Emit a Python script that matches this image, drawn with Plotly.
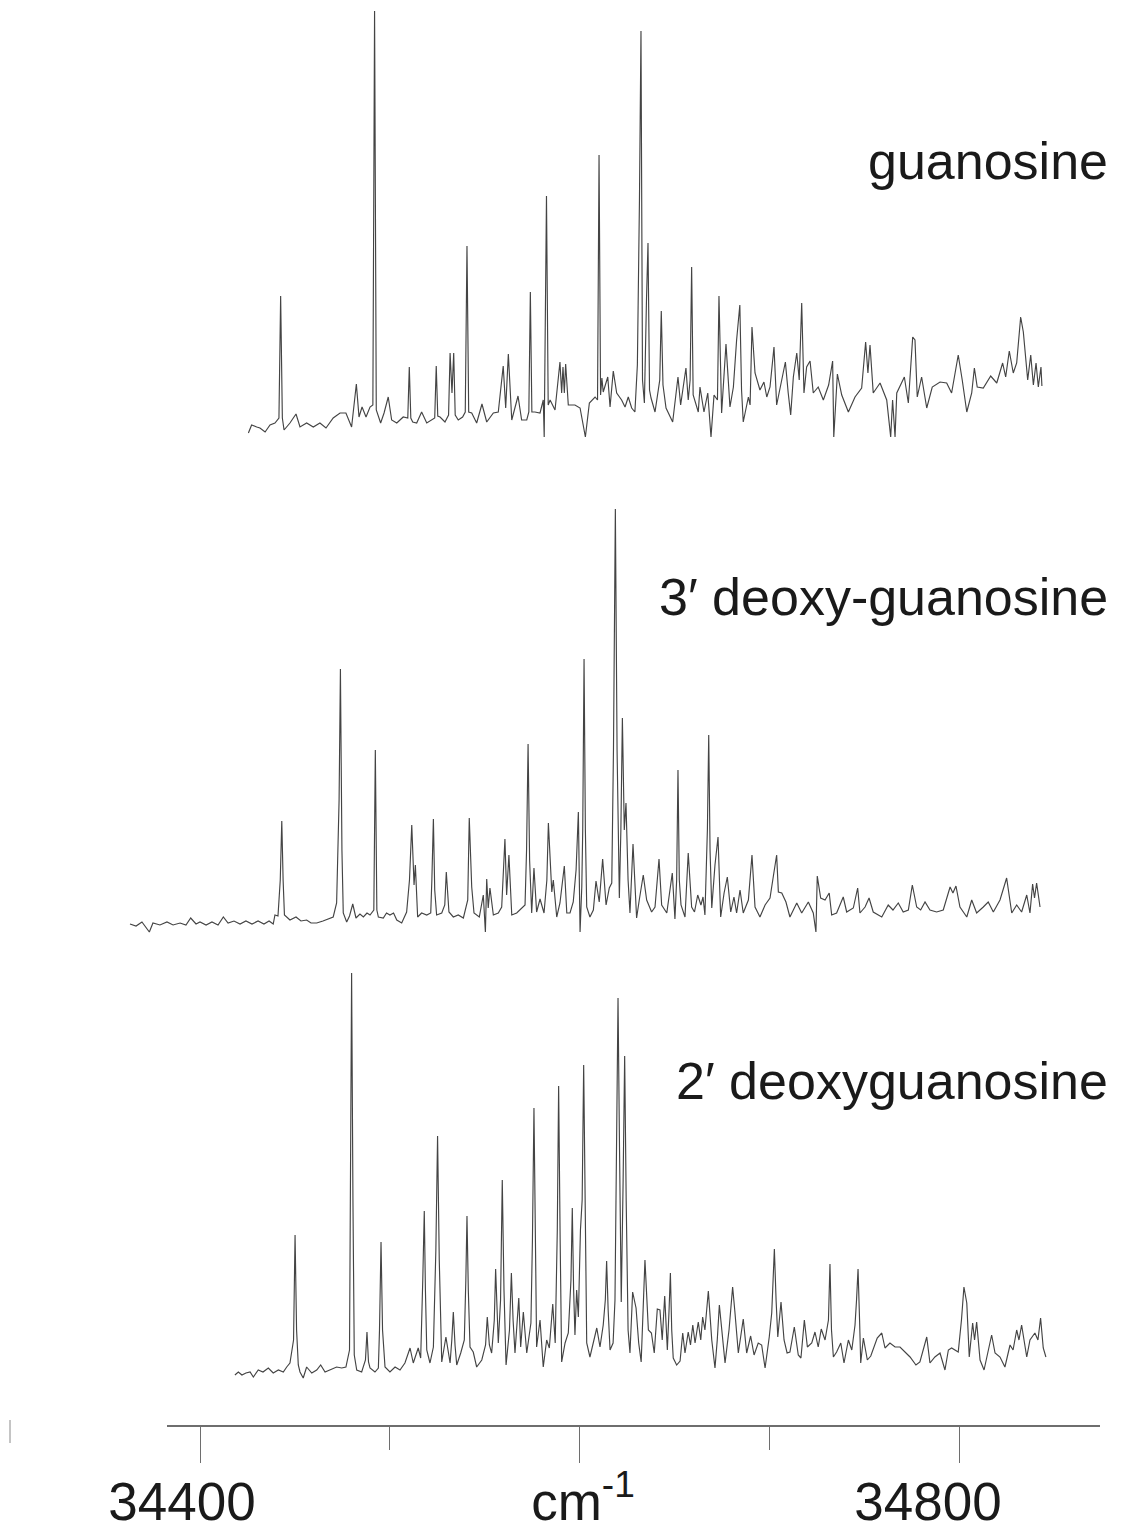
import plotly.graph_objects as go

# ---- data: (wavenumber cm-1, intensity a.u.) ----
guanosine = [
    (34425.5, 7), (34427.2, 15), (34429.9, 13), (34431.6, 12), (34434.3, 8), (34436.9, 15), (34439.5, 17),
    (34441.0, 20), (34441.6, 22), (34442.5, 144), (34443.4, 22), (34444.3, 10), (34447.4, 17), (34450.6, 26),
    (34452.7, 13), (34456.2, 17), (34459.7, 13), (34463.2, 17), (34466.4, 12), (34470.2, 22), (34473.8, 27),
    (34476.9, 27), (34479.9, 13), (34482.4, 56), (34483.8, 23), (34485.4, 33), (34487.5, 23), (34489.6, 33),
    (34491.1, 35), (34492.0, 429), (34492.9, 30), (34495.2, 17), (34497.0, 27), (34499.2, 43), (34501.0, 20),
    (34503.7, 17), (34507.1, 23), (34509.5, 22), (34510.3, 73), (34511.1, 22), (34512.1, 18), (34514.2, 17),
    (34516.8, 28), (34519.5, 17), (34522.1, 20), (34523.7, 22), (34524.5, 74), (34525.3, 24), (34526.5, 23),
    (34529.1, 18), (34531.0, 25), (34531.8, 87), (34532.8, 47), (34533.7, 87), (34534.5, 25), (34536.1, 20),
    (34538.4, 23), (34539.8, 28), (34540.7, 194), (34541.6, 28), (34543.2, 27), (34545.8, 17), (34548.6, 36),
    (34551.1, 18), (34554.6, 27), (34557.2, 28), (34559.8, 74), (34561.1, 32), (34562.5, 86), (34564.3, 20),
    (34567.6, 44), (34569.5, 20), (34572.2, 20), (34573.3, 28), (34574.1, 148), (34574.9, 28), (34576.5, 28),
    (34579.2, 27), (34580.9, 40), (34581.4, 3), (34582.6, 244), (34583.5, 35), (34584.5, 40), (34587.1, 30),
    (34589.7, 78), (34590.6, 47), (34591.3, 73), (34592.0, 47), (34592.7, 76), (34594.1, 35), (34597.6, 35),
    (34600.3, 32), (34603.1, 3), (34605.2, 37), (34608.2, 43), (34609.5, 40), (34610.3, 285), (34611.1, 45),
    (34611.8, 62), (34612.5, 48), (34614.9, 63), (34616.1, 33), (34617.8, 69), (34619.6, 47), (34622.2, 40),
    (34624.0, 33), (34625.7, 43), (34627.5, 32), (34629.2, 28), (34630.5, 75), (34631.6, 240), (34632.4, 409),
    (34633.2, 60), (34634.2, 37), (34635.3, 140), (34636.1, 197), (34636.9, 50), (34637.7, 42), (34639.8, 28),
    (34642.3, 60), (34643.1, 129), (34644.0, 55), (34645.6, 32), (34649.1, 18), (34651.9, 63), (34653.3, 35),
    (34656.1, 72), (34657.3, 40), (34658.3, 60), (34659.1, 173), (34659.9, 45), (34662.6, 28), (34663.5, 53),
    (34665.6, 28), (34667.6, 47), (34669.3, 3), (34670.9, 45), (34672.7, 40), (34673.5, 144), (34674.9, 27),
    (34677.2, 96), (34679.3, 33), (34681.1, 53), (34682.8, 100), (34684.5, 135), (34685.4, 50), (34686.3, 18),
    (34689.0, 43), (34689.9, 35), (34690.9, 113), (34692.5, 67), (34695.1, 50), (34697.2, 58), (34698.7, 43),
    (34700.4, 53), (34702.5, 93), (34703.9, 35), (34705.7, 53), (34708.5, 78), (34710.0, 47), (34711.3, 25),
    (34712.7, 63), (34714.5, 87), (34715.8, 60), (34717.1, 137), (34718.3, 47), (34719.7, 73), (34721.5, 79),
    (34723.2, 47), (34725.8, 53), (34728.5, 40), (34731.3, 55), (34733.4, 79), (34734.0, 3), (34735.9, 66),
    (34738.2, 45), (34741.7, 28), (34745.2, 43), (34748.7, 52), (34750.8, 98), (34752.0, 67), (34753.1, 95),
    (34754.8, 47), (34758.4, 57), (34761.9, 40), (34764.0, 3), (34765.0, 40), (34766.3, 3), (34767.2, 47),
    (34771.2, 63), (34773.3, 37), (34775.6, 103), (34776.8, 100), (34778.0, 43), (34780.3, 63), (34783.0, 32),
    (34785.9, 53), (34790.0, 58), (34793.5, 57), (34796.1, 47), (34799.6, 85), (34801.7, 60), (34804.1, 28),
    (34806.7, 47), (34808.1, 72), (34809.6, 53), (34812.8, 52), (34816.7, 64), (34819.9, 57), (34823.0, 77),
    (34824.6, 63), (34826.5, 89), (34828.6, 67), (34830.4, 77), (34832.5, 123), (34833.9, 108), (34836.2, 60),
    (34837.8, 85), (34839.2, 55), (34840.6, 77), (34841.8, 53), (34843.2, 73), (34843.7, 54),
]

deoxy3 = [
    (34363.1, 6), (34366.3, 4), (34369.4, 8), (34373.3, -2), (34375.2, 7), (34378.9, 5), (34382.6, 8),
    (34385.8, 5), (34389.5, 7), (34392.6, 5), (34395.1, 12), (34397.9, 6), (34400.0, 8), (34403.2, 5),
    (34406.3, 8), (34409.5, 5), (34412.3, 13), (34414.8, 7), (34417.9, 9), (34421.1, 6), (34424.2, 9),
    (34427.4, 6), (34430.6, 9), (34433.7, 6), (34436.4, 9), (34438.6, 6), (34439.5, 15), (34441.1, 14),
    (34442.3, 50), (34443.1, 109), (34443.8, 50), (34444.5, 15), (34447.4, 10), (34450.6, 13), (34453.2, 9),
    (34456.2, 10), (34458.5, 7), (34461.5, 7), (34464.8, 9), (34468.0, 11), (34470.2, 13), (34472.0, 27),
    (34473.3, 130), (34474.0, 261), (34474.8, 80), (34475.5, 17), (34477.3, 8), (34478.8, 14), (34480.5, 26),
    (34482.2, 12), (34484.3, 16), (34486.1, 13), (34488.0, 17), (34489.6, 15), (34491.6, 20), (34492.4, 180),
    (34493.2, 20), (34494.0, 13), (34496.6, 12), (34498.3, 17), (34500.1, 15), (34502.0, 17), (34503.7, 10),
    (34506.3, 7), (34508.9, 18), (34510.4, 50), (34511.6, 105), (34512.8, 45), (34513.5, 65), (34514.7, 13),
    (34516.8, 17), (34519.5, 15), (34521.6, 17), (34522.2, 50), (34523.0, 111), (34523.7, 40), (34524.7, 15),
    (34527.4, 17), (34529.0, 25), (34529.8, 58), (34531.2, 18), (34533.5, 13), (34536.1, 15), (34538.8, 12),
    (34541.1, 30), (34541.9, 112), (34543.2, 43), (34544.4, 17), (34547.2, 13), (34549.3, 35), (34550.4, -2),
    (34551.1, 51), (34551.9, 22), (34552.8, 42), (34554.6, 15), (34557.2, 17), (34559.0, 23), (34560.7, 91),
    (34561.6, 35), (34562.8, 75), (34564.3, 15), (34566.9, 17), (34569.5, 22), (34571.3, 25), (34572.1, 80),
    (34572.9, 186), (34573.7, 70), (34574.8, 17), (34576.0, 62), (34577.4, 18), (34579.2, 31), (34581.3, 17),
    (34582.8, 50), (34583.6, 107), (34585.4, 38), (34586.2, 50), (34588.0, 13), (34589.7, 27), (34592.0, 64),
    (34593.3, 17), (34595.0, 17), (34596.7, 28), (34598.2, 60), (34599.4, 118), (34600.3, -2), (34601.2, 43),
    (34601.7, 100), (34602.4, 271), (34603.1, 100), (34603.8, 23), (34605.5, 13), (34607.3, 20), (34608.7, 49),
    (34610.4, 28), (34612.2, 71), (34614.0, 25), (34615.7, 42), (34617.0, 47), (34617.9, 180), (34618.9, 421),
    (34619.8, 180), (34621.0, 32), (34621.8, 100), (34622.6, 212), (34623.6, 100), (34624.5, 127), (34625.6, 50),
    (34626.6, 17), (34628.2, 86), (34630.1, 12), (34631.5, 30), (34633.6, 55), (34635.4, 30), (34638.0, 18),
    (34639.8, 23), (34641.9, 71), (34643.3, 25), (34646.0, 17), (34648.9, 57), (34650.3, 11), (34651.2, 50),
    (34651.9, 160), (34652.6, 50), (34653.5, 25), (34655.6, 13), (34657.3, 77), (34659.1, 23), (34660.6, 18),
    (34662.3, 35), (34664.0, 25), (34665.1, 33), (34666.1, 15), (34667.4, 100), (34668.1, 195), (34668.8, 80),
    (34669.7, 22), (34671.4, 65), (34673.0, 93), (34674.4, 13), (34676.2, 37), (34677.9, 53), (34679.7, 18),
    (34681.4, 33), (34682.8, 17), (34684.6, 40), (34686.3, 17), (34689.0, 30), (34690.9, 75), (34692.5, 23),
    (34695.1, 13), (34697.8, 25), (34700.4, 32), (34702.1, 53), (34703.9, 75), (34704.8, 38), (34706.6, 37),
    (34708.8, 28), (34710.9, 13), (34712.7, 20), (34714.5, 27), (34717.1, 17), (34720.6, 28), (34723.2, 17),
    (34724.6, -2), (34725.3, 54), (34727.1, 32), (34729.4, 30), (34731.6, 37), (34732.9, 15), (34735.5, 17),
    (34739.0, 33), (34740.8, 18), (34744.3, 22), (34746.6, 42), (34747.8, 17), (34750.5, 23), (34752.6, 32),
    (34754.8, 18), (34759.3, 13), (34762.7, 25), (34765.2, 20), (34768.0, 27), (34770.6, 18), (34773.3, 20),
    (34775.4, 45), (34777.7, 23), (34779.8, 20), (34782.1, 28), (34784.7, 20), (34788.2, 18), (34791.7, 20),
    (34795.3, 43), (34796.8, 37), (34798.4, 44), (34800.5, 23), (34804.1, 13), (34806.7, 30), (34809.3, 17),
    (34812.8, 23), (34815.4, 28), (34818.1, 18), (34821.6, 30), (34825.1, 52), (34827.8, 17), (34830.4, 25),
    (34833.0, 18), (34835.7, 35), (34837.4, 17), (34838.8, 46), (34839.8, 32), (34840.9, 47), (34842.7, 23),
]

deoxy2 = [
    (34418.4, 10), (34420.2, 13), (34422.1, 10), (34424.2, 12), (34426.4, 13), (34428.1, 8), (34430.7, 15),
    (34433.2, 13), (34436.0, 17), (34438.6, 12), (34441.3, 15), (34443.9, 13), (34445.7, 18), (34447.4, 22),
    (34449.3, 45), (34450.1, 150), (34450.9, 55), (34451.8, 20), (34452.7, 13), (34454.4, 7), (34456.2, 18),
    (34458.9, 12), (34461.5, 15), (34463.6, 20), (34465.9, 13), (34468.5, 15), (34472.0, 18), (34474.7, 17),
    (34476.9, 18), (34478.8, 35), (34479.3, 185), (34479.9, 412), (34480.6, 185), (34481.3, 30), (34482.6, 15),
    (34485.2, 13), (34487.2, 25), (34488.0, 53), (34488.8, 23), (34489.6, 17), (34492.2, 13), (34494.0, 17),
    (34494.6, 55), (34495.4, 143), (34496.2, 55), (34497.5, 18), (34500.1, 13), (34502.8, 18), (34505.4, 15),
    (34508.0, 22), (34510.7, 37), (34512.4, 22), (34515.0, 37), (34516.3, 27), (34517.4, 105), (34518.2, 174),
    (34518.8, 95), (34519.5, 35), (34521.2, 22), (34523.0, 38), (34524.3, 135), (34525.2, 249), (34526.1, 125),
    (34527.4, 23), (34529.6, 48), (34531.8, 22), (34532.7, 45), (34533.5, 73), (34534.4, 40), (34535.3, 20),
    (34537.4, 32), (34539.3, 45), (34540.1, 105), (34540.7, 169), (34541.4, 95), (34542.3, 38), (34544.0, 33),
    (34545.8, 18), (34548.5, 25), (34550.5, 40), (34551.4, 68), (34552.5, 40), (34553.7, 32), (34555.1, 65),
    (34555.8, 116), (34556.5, 65), (34557.2, 42), (34558.4, 85), (34559.3, 205), (34560.2, 95), (34561.3, 20),
    (34563.1, 55), (34564.1, 112), (34565.0, 65), (34566.0, 32), (34568.0, 87), (34569.0, 38), (34570.4, 73),
    (34572.2, 32), (34574.4, 62), (34575.2, 145), (34576.0, 277), (34576.7, 145), (34577.4, 38), (34579.2, 65),
    (34580.9, 18), (34582.7, 45), (34584.1, 37), (34585.9, 81), (34587.2, 42), (34588.3, 155), (34589.0, 299),
    (34589.8, 145), (34590.6, 23), (34592.4, 42), (34594.1, 52), (34595.5, 105), (34596.2, 177), (34596.9, 95),
    (34597.6, 50), (34598.5, 95), (34599.4, 68), (34600.5, 155), (34601.4, 185), (34602.2, 320), (34603.0, 155),
    (34603.8, 42), (34605.5, 28), (34609.1, 57), (34610.8, 38), (34612.5, 60), (34613.6, 85), (34614.3, 124),
    (34615.1, 75), (34616.1, 35), (34617.7, 42), (34618.7, 85), (34619.5, 235), (34620.3, 387), (34621.1, 235),
    (34622.0, 83), (34623.0, 205), (34623.8, 329), (34624.6, 185), (34625.6, 55), (34626.6, 32), (34628.0, 93),
    (34629.8, 77), (34631.2, 42), (34632.5, 23), (34633.7, 85), (34634.5, 125), (34636.3, 55), (34637.9, 52),
    (34639.4, 32), (34641.0, 76), (34642.4, 75), (34643.6, 45), (34644.9, 89), (34646.3, 35), (34647.2, 75),
    (34647.9, 112), (34648.6, 55), (34649.4, 27), (34651.2, 20), (34653.0, 24), (34654.4, 52), (34655.6, 32),
    (34657.3, 53), (34658.5, 40), (34659.7, 60), (34660.9, 42), (34662.6, 63), (34663.9, 45), (34664.9, 68),
    (34666.1, 55), (34667.9, 94), (34669.7, 45), (34671.4, 17), (34672.6, 45), (34673.7, 80), (34674.9, 55),
    (34676.7, 22), (34678.8, 55), (34680.7, 98), (34681.9, 73), (34683.7, 32), (34686.3, 66), (34688.1, 32),
    (34690.2, 49), (34692.0, 30), (34694.2, 42), (34696.0, 40), (34697.8, 17), (34700.0, 48), (34701.3, 72),
    (34702.7, 136), (34703.6, 85), (34704.5, 48), (34706.2, 83), (34707.8, 45), (34709.4, 32), (34710.9, 33),
    (34713.2, 58), (34715.3, 30), (34716.7, 27), (34718.5, 65), (34720.1, 38), (34722.4, 42), (34724.1, 53),
    (34725.8, 38), (34727.4, 56), (34729.4, 45), (34731.2, 65), (34732.0, 121), (34732.8, 55), (34733.8, 28),
    (34735.5, 33), (34737.7, 42), (34739.4, 22), (34741.7, 45), (34743.5, 35), (34745.2, 60), (34746.0, 85),
    (34746.8, 116), (34747.6, 65), (34748.2, 22), (34749.6, 47), (34751.7, 25), (34753.5, 29), (34756.9, 47),
    (34759.3, 52), (34761.0, 37), (34763.6, 42), (34766.3, 38), (34768.9, 38), (34771.5, 33), (34774.2, 28),
    (34777.3, 20), (34779.4, 23), (34783.0, 48), (34784.7, 22), (34787.3, 28), (34790.0, 32), (34792.6, 15),
    (34794.4, 35), (34796.1, 37), (34799.6, 33), (34801.3, 65), (34802.6, 98), (34804.1, 82), (34805.4, 28),
    (34807.2, 62), (34808.2, 45), (34809.3, 63), (34811.1, 25), (34813.2, 15), (34815.4, 35), (34817.2, 50),
    (34819.0, 32), (34821.6, 28), (34824.2, 18), (34826.9, 40), (34828.5, 35), (34830.4, 55), (34831.6, 45),
    (34833.0, 60), (34835.7, 28), (34837.4, 45), (34840.0, 52), (34841.6, 45), (34843.0, 67), (34844.4, 37),
    (34845.8, 28),
]

series_names = ["guanosine", "3\u2032 deoxy-guanosine", "2\u2032 deoxyguanosine"]
major_tick_values = [34400, 34600, 34800]
minor_tick_values = [34500, 34700]
tick_labels = ["34400", "cm<sup>-1</sup>", "34800"]

# ---- layout constants ----
PAGE_W, PAGE_H = 1121, 1526
BODY = 8                              # default page margin around the plot div
W, H = PAGE_W - BODY, PAGE_H - BODY   # figure size so it fits the window exactly
offsets = [1086, 596, 141]            # vertical stacking offsets of the three spectra
line_color = "#444444"
label_px_centres = [182, 583, 928]    # where the reference prints its axis labels


def fx(px):   # page pixel -> paper fraction (x)
    return (px - BODY) / W


def fy(py):   # page pixel -> paper fraction (y)
    return 1 - (py - BODY) / H


def wn_at(px):  # page calibration: 34400 at px 200, 100 cm-1 = 189.75 px
    return 34400 + (px - 200) * 100 / 189.75


fig = go.Figure()
for data, off, name in zip([guanosine, deoxy3, deoxy2], offsets, series_names):
    xs = [p[0] for p in data]
    ys = [off + p[1] for p in data]
    fig.add_trace(go.Scatter(x=xs, y=ys, mode="lines", name=name,
                             line=dict(color=line_color, width=1.15),
                             hoverinfo="skip", showlegend=False))

# invisible anchors so the ruler axes (x2: line + ticks, x3: labels) get drawn
for ax in ("x2", "x3"):
    fig.add_trace(go.Scatter(x=[34600], y=[-100], xaxis=ax, yaxis="y", mode="markers",
                             marker=dict(size=1, opacity=0), showlegend=False, hoverinfo="skip"))

ruler_domain = [fx(167), fx(1100)]
ruler_range = [wn_at(167), wn_at(1100)]
tick_font = dict(family="Liberation Sans, Arial, sans-serif", size=53, color="#1a1a1a")

fig.update_layout(
    template="none",
    width=W, height=H,
    margin=dict(l=0, r=0, t=0, b=0, pad=0, autoexpand=False),
    paper_bgcolor="white", plot_bgcolor="rgba(0,0,0,0)",
    xaxis=dict(range=[wn_at(BODY), wn_at(PAGE_W)], visible=False, domain=[0, 1], automargin=False),
    yaxis=dict(range=[0, PAGE_H - BODY], visible=False, domain=[0, 1], automargin=False),
    xaxis2=dict(
        domain=ruler_domain, range=ruler_range,
        anchor="free", position=fy(1426), automargin=False,
        showline=True, linecolor="#6e6e6e", linewidth=1.5,
        showgrid=False, zeroline=False,
        tickmode="array", tickvals=major_tick_values, showticklabels=False,
        ticks="outside", ticklen=36, tickwidth=1, tickcolor="#6e6e6e",
        minor=dict(tickmode="array", tickvals=minor_tick_values, ticks="outside",
                   ticklen=23, tickwidth=1, tickcolor="#6e6e6e", showgrid=False),
    ),
    xaxis3=dict(
        domain=ruler_domain, range=ruler_range, overlaying="x2",
        anchor="free", position=fy(1426), automargin=False,
        showline=False, showgrid=False, zeroline=False,
        tickmode="array", tickvals=[wn_at(p) for p in label_px_centres], ticktext=tick_labels,
        ticks="outside", ticklen=36, tickcolor="rgba(0,0,0,0)",
        ticklabelstandoff=-7, tickfont=tick_font,
    ),
)

label_font = dict(family="Liberation Sans, Arial, sans-serif", size=52, color="#1a1a1a")
label_centers = [161, 597, 1081]
for name, cy in zip(series_names, label_centers):
    fig.add_annotation(text=name, xref="paper", yref="paper",
                       x=fx(1110), y=fy(cy), xanchor="right", yanchor="middle",
                       showarrow=False, font=label_font)

# small stray tick mark at the far left of the reference
fig.add_shape(type="line", xref="paper", yref="paper",
              x0=fx(10), x1=fx(10), y0=fy(1420), y1=fy(1443),
              line=dict(color="#8a8a8a", width=1))

fig.write_html("out.html")
